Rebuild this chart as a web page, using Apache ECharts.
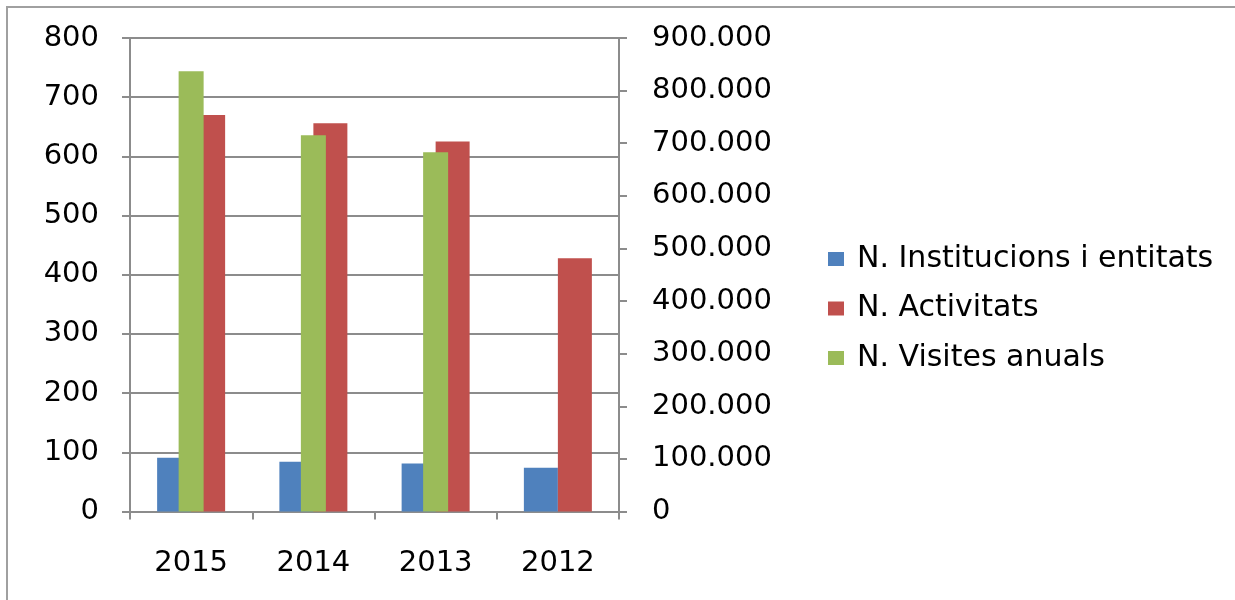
<!DOCTYPE html>
<html>
<head>
<meta charset="utf-8">
<script src="https://cdn.jsdelivr.net/npm/echarts@6/dist/echarts.min.js"></script>
<style>html,body{margin:0;padding:0;background:#fff;}#c{width:1235px;height:600px;}</style>
</head>
<body>
<div id="c"></div>
<script>
var categories = ['2015', '2014', '2013', '2012'];
var institucions = [91, 84, 81, 74];
var activitats = [670, 656, 625, 428];
var visites = [837000, 715000, 683000, null];
var seriesNames = ['N. Institucions i entitats', 'N. Activitats', 'N. Visites anuals'];
var leftTicks = {min: 0, max: 800, interval: 100};
var rightTicks = {min: 0, max: 900000, interval: 100000};

var chart = echarts.init(document.getElementById('c'), null, {renderer: 'canvas'});
var FONT = 'DejaVu Sans';
var axisGray = '#8c8c8c';
chart.setOption({
  animation: false,
  backgroundColor: '#fff',
  graphic: [{
    type: 'polyline', silent: true,
    shape: {points: [[7, 620], [7, 7], [1250, 7]]},
    style: {fill: 'none', stroke: '#a0a0a0', lineWidth: 2}
  }],
  grid: {left: 130, right: 616, top: 38, bottom: 88.5, containLabel: false},
  legend: {
    orient: 'vertical', left: 823, top: 239,
    itemWidth: 16, itemHeight: 14, itemGap: 19.5, icon: 'rect',
    textStyle: {fontFamily: FONT, fontSize: 30, color: '#000', lineHeight: 30, padding: [0, 0, 0, 8]},
    data: seriesNames
  },
  xAxis: [{
    type: 'category', data: categories, position: 'bottom',
    axisLine: {lineStyle: {color: axisGray, width: 2}},
    axisTick: {show: true, length: 8, lineStyle: {color: axisGray, width: 2}},
    axisLabel: {fontFamily: FONT, fontSize: 29, color: '#000', margin: 37},
    splitLine: {show: false}
  }, {
    type: 'category', data: categories, position: 'bottom', show: false
  }],
  yAxis: [{
    type: 'value', min: leftTicks.min, max: leftTicks.max, interval: leftTicks.interval,
    position: 'left',
    axisLine: {show: true, lineStyle: {color: axisGray, width: 2}},
    axisTick: {show: true, length: 8, lineStyle: {color: axisGray, width: 2}},
    axisLabel: {fontFamily: FONT, fontSize: 29, color: '#000', margin: 31},
    splitLine: {show: true, lineStyle: {color: axisGray, width: 2}}
  }, {
    type: 'value', min: rightTicks.min, max: rightTicks.max, interval: rightTicks.interval,
    position: 'right',
    axisLine: {show: true, lineStyle: {color: axisGray, width: 2}},
    axisTick: {show: true, length: 8, lineStyle: {color: axisGray, width: 2}},
    axisLabel: {
      fontFamily: FONT, fontSize: 29, color: '#000', margin: 33,
      formatter: function (v) {
        if (v === 0) return '0';
        var s = String(Math.round(v));
        return s.replace(/\B(?=(\d{3})+(?!\d))/g, '.');
      }
    },
    splitLine: {show: false}
  }],
  series: [{
    name: seriesNames[0], type: 'bar', xAxisIndex: 0, yAxisIndex: 0,
    data: institucions, barWidth: 34, barGap: '0%',
    itemStyle: {color: '#4F81BD'}
  }, {
    name: seriesNames[1], type: 'bar', xAxisIndex: 0, yAxisIndex: 0,
    data: activitats, barWidth: 34, barGap: '0%',
    itemStyle: {color: '#C0504D'}
  }, {
    name: seriesNames[2], type: 'bar', xAxisIndex: 1, yAxisIndex: 1,
    data: visites, barWidth: 25, z: 3,
    itemStyle: {color: '#9BBB59'}
  }]
});
</script>
</body>
</html>
